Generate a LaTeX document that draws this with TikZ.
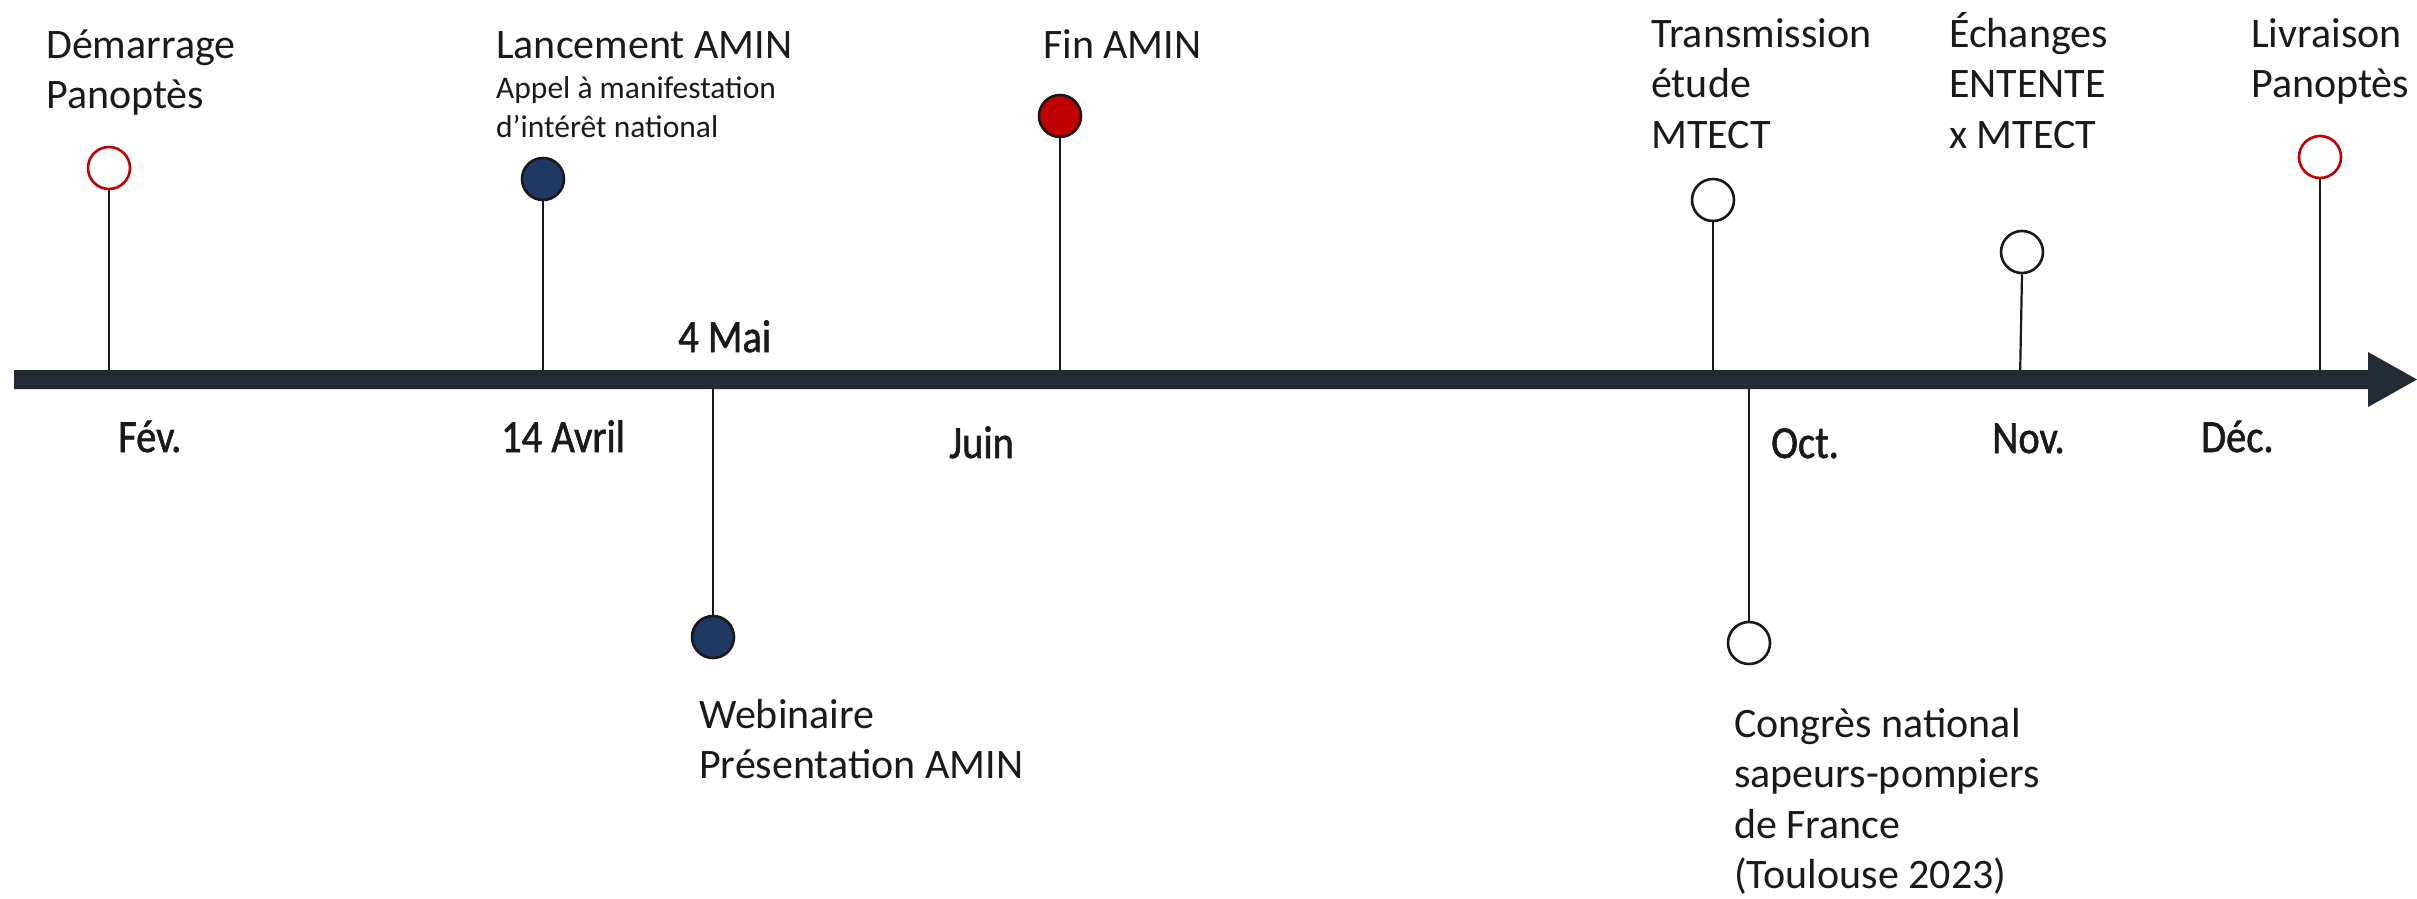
\documentclass[tikz,border=0pt]{standalone}
\usepackage{fontspec}
\setmainfont{Carlito}
\newfontfamily\monthfont{Carlito}[FakeStretch=0.88,FakeBold=1.3]
\definecolor{axisc}{HTML}{222A35}
\definecolor{navy}{HTML}{203864}
\definecolor{redc}{HTML}{C00000}
\definecolor{txt}{HTML}{1A1A1A}
\newcommand{\lbl}[1]{\begin{tabular}[t]{@{}l@{}}#1\end{tabular}}
\begin{document}
\begin{tikzpicture}[x=1pt,y=-1pt,
  ev/.style={circle,minimum size=42pt,inner sep=0pt,line width=2.6pt,draw=black!90},
  stem/.style={line width=2.2pt,black!90},
  mainlbl/.style={anchor=base west,inner sep=0pt,text=txt,font=\fontsize{42}{50.5}\selectfont},
  sublbl/.style={anchor=base west,inner sep=0pt,text=txt,font=\fontsize{31.5}{39}\selectfont},
  month/.style={anchor=base west,inner sep=0pt,text=txt,font=\monthfont\fontsize{46}{50}\selectfont}]
\useasboundingbox (0,0) rectangle (2417,898);

% stems coordinates on axis
\coordinate (a1) at (109,372);
\coordinate (a2) at (543,379);
\coordinate (a3) at (1060,372);
\coordinate (a4) at (713,386);
\coordinate (a5) at (1713,372);
\coordinate (a6) at (2020,379);
\coordinate (a7) at (2320,379);
\coordinate (a8) at (1749,386);

% event markers
\node[ev,draw=redc,fill=white] (c1) at (109,168) {};
\node[ev,fill=navy] (c2) at (543,179) {};
\node[ev,fill=redc] (c3) at (1060,116) {};
\node[ev,fill=navy] (c4) at (713,637) {};
\node[ev,fill=white] (c5) at (1713,200) {};
\node[ev,fill=white] (c6) at (2022,252) {};
\node[ev,draw=redc,fill=white] (c7) at (2320,157) {};
\node[ev,fill=white] (c8) at (1749,643) {};

\draw[stem] (c1) -- (a1);
\draw[stem] (c2) -- (a2);
\draw[stem] (c3) -- (a3);
\draw[stem] (c4) -- (a4);
\draw[stem] (c5) -- (a5);
\draw[stem] (c6.south) -- (a6);
\draw[stem] (c7) -- (a7);
\draw[stem] (c8) -- (a8);

% axis arrow
\fill[axisc] (14,370) -- (2368,370) -- (2368,352) -- (2417,379.5) -- (2368,407) -- (2368,389) -- (14,389) -- cycle;

% labels above
\node[mainlbl] (t1) at (46,58) {\lbl{Démarrage\\Panoptès}};
\node[mainlbl] (t2) at (496,58) {Lancement AMIN};
\node[sublbl] (t2b) at (496,98) {\lbl{Appel à manifestation\\d’intérêt national}};
\node[mainlbl] (t3) at (1043,58) {Fin AMIN};
\node[mainlbl] (t5) at (1651,47) {\lbl{Transmission\\étude\\MTECT}};
\node[mainlbl] (t6) at (1949,47) {\lbl{Échanges\\ENTENTE\\x MTECT}};
\node[mainlbl] (t7) at (2251,47) {\lbl{Livraison\\Panoptès}};
% labels below
\node[mainlbl] (t4) at (699,728) {\lbl{Webinaire\\Présentation AMIN}};
\node[mainlbl] (t8) at (1734,737) {\lbl{Congrès national\\sapeurs-pompiers\\de France\\(Toulouse 2023)}};

% month labels
\node[month] (m1) at (118,452) {Fév.};
\node[month] (m2) at (501,452) {14 Avril};
\node[month] (m3) at (678,352) {4 Mai};
\node[month] (m4) at (949,458) {Juin};
\node[month] (m5) at (1771,458) {Oct.};
\node[month] (m6) at (1992,453) {Nov.};
\node[month] (m7) at (2201,452) {Déc.};
\end{tikzpicture}
\end{document}
